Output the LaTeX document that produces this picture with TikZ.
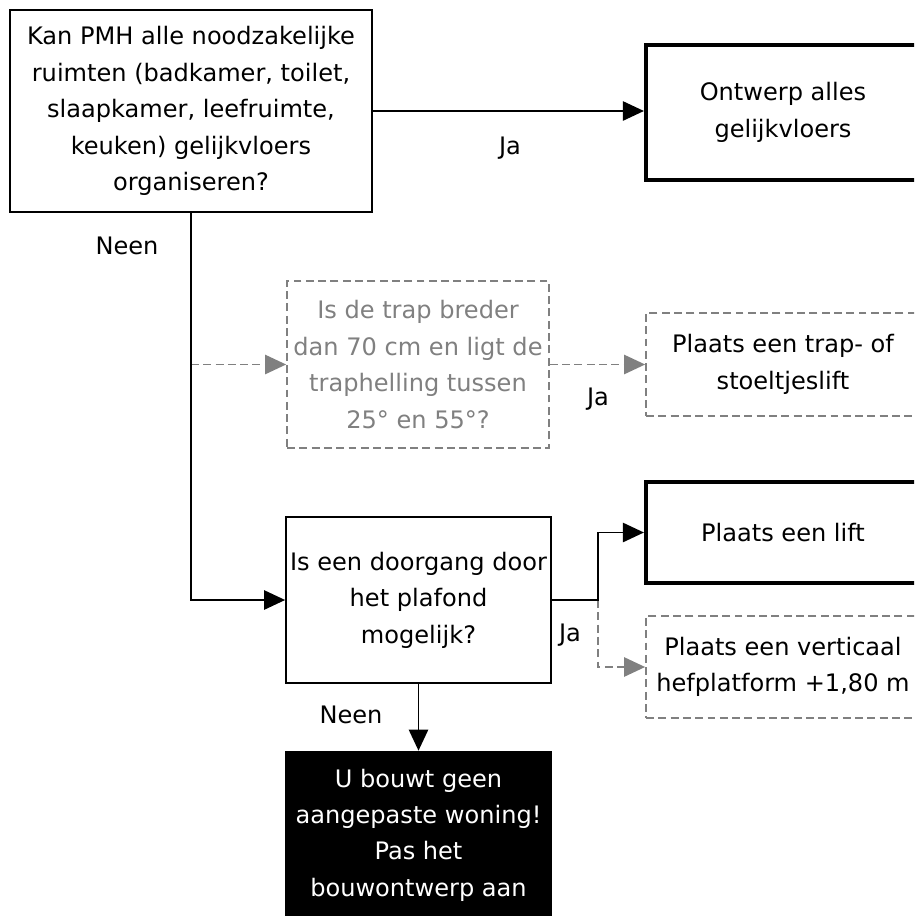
\documentclass[tikz,border=0pt]{standalone}
\usepackage{fontspec}
\setmainfont{DejaVu Sans}
\usetikzlibrary{arrows.meta}
\definecolor{lichtgrijs}{RGB}{128,128,128}

\begin{document}
\begin{tikzpicture}[x=0.02cm, y=-0.02cm,
    every node/.style={font=\fontsize{13.7}{20.7}\selectfont, align=center, inner sep=0pt},
    vraag/.style={draw, line width=1pt, fill=white},
    antwoord/.style={draw, line width=2.4pt, fill=white, minimum width=5.48cm},
    optie/.style={draw=lichtgrijs, line width=1pt, dash pattern=on 4.5pt off 2.5pt, fill=white},
    pijl/.style={line width=1pt, -{Triangle[length=12pt,width=11pt]}},
    grijspijl/.style={pijl, draw=lichtgrijs, dash pattern=on 4.5pt off 2.5pt}]
    \clip (0,0) rectangle (914,916);
    %vraag 1
    \node[vraag, minimum width=7.24cm, minimum height=4.04cm] (gelijkvloers) at (191,111)
        {Kan PMH alle noodzakelijke\\ruimten (badkamer, toilet,\\slaapkamer, leefruimte,\\keuken) gelijkvloers\\organiseren?};
    \node[antwoord, minimum height=2.7cm] (ontwerp) at (783,112.5) {Ontwerp alles\\gelijkvloers};
    \draw[pijl] (gelijkvloers.east) -- (gelijkvloers.east -| ontwerp.west);
    \node (ja1) at (510,148) {Ja};
    \node (neen1) at (127,246) {Neen};
    %trap
    \node[optie, text=lichtgrijs, minimum width=5.24cm, minimum height=3.34cm] (trap) at (418,364.5)
        {Is de trap breder\\dan 70 cm en ligt de\\traphelling tussen\\25° en 55°?};
    \node[antwoord, optie, minimum height=2.06cm] (traplift) at (783,364.5) {Plaats een trap- of\\stoeltjeslift};
    \coordinate (splits) at (gelijkvloers.south |- trap.west);
    \draw[grijspijl] (splits) -- (trap.west);
    \draw[grijspijl] (trap.east) -- (traplift.west);
    \node (ja2) at (598,399) {Ja};
    %vraag 2
    \node[vraag, minimum width=5.3cm, minimum height=3.32cm] (doorgang) at (418.5,600)
        {Is een doorgang door\\het plafond\\mogelijk?};
    \draw[pijl] (gelijkvloers.south) |- (doorgang.west);
    \node[antwoord, minimum height=2.02cm] (lift) at (783,532.5) {Plaats een lift};
    \node[antwoord, optie, minimum height=2.04cm] (hef) at (783,667) {Plaats een verticaal\\hefplatform +1,80 m};
    \coordinate (vork) at (598,600);
    \draw[grijspijl] (vork) |- (hef.west);
    \draw[pijl] (doorgang.east) -- (vork) |- (lift.west);
    \node (ja3) at (570,635) {Ja};
    %geen aangepaste woning
    \node[fill=black, text=white, minimum width=5.34cm, minimum height=3.36cm] (stop) at (418.5,835)
        {U bouwt geen\\aangepaste woning!\\Pas het\\bouwontwerp aan};
    \draw[pijl] (doorgang.south) -- (stop.north);
    \node (neen2) at (351,715) {Neen};
\end{tikzpicture}
\end{document}
